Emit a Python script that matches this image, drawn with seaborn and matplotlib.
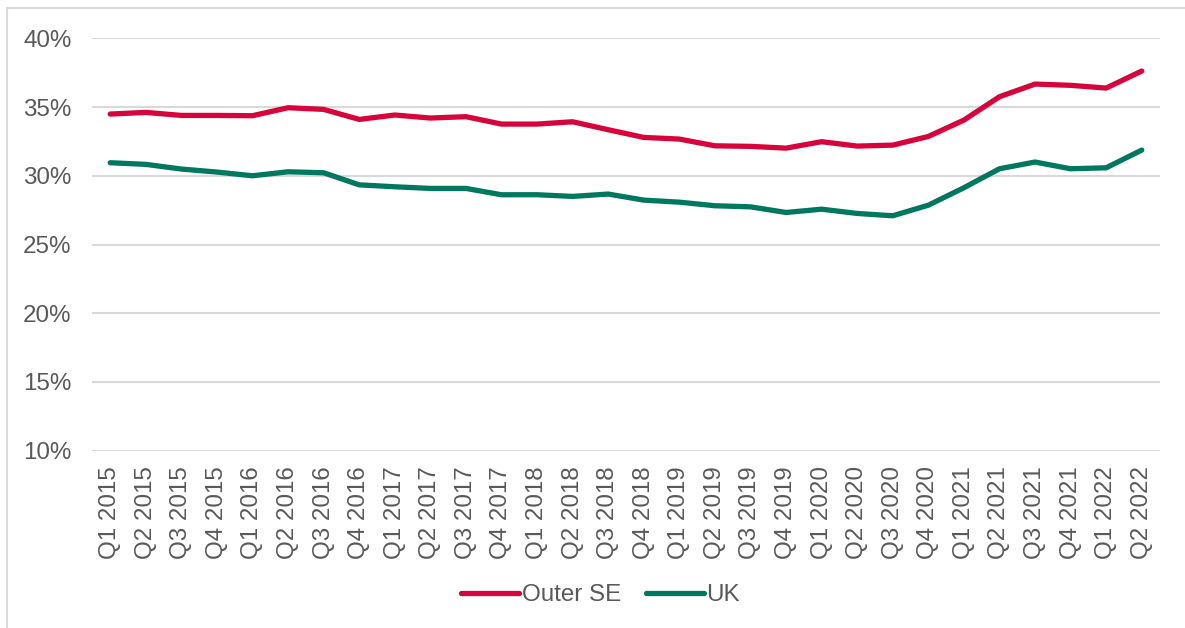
import pandas as pd
import seaborn as sns
import matplotlib.pyplot as plt
from matplotlib.patches import Rectangle

quarters = ['Q1 2015', 'Q2 2015', 'Q3 2015', 'Q4 2015',
            'Q1 2016', 'Q2 2016', 'Q3 2016', 'Q4 2016',
            'Q1 2017', 'Q2 2017', 'Q3 2017', 'Q4 2017',
            'Q1 2018', 'Q2 2018', 'Q3 2018', 'Q4 2018',
            'Q1 2019', 'Q2 2019', 'Q3 2019', 'Q4 2019',
            'Q1 2020', 'Q2 2020', 'Q3 2020', 'Q4 2020',
            'Q1 2021', 'Q2 2021', 'Q3 2021', 'Q4 2021',
            'Q1 2022', 'Q2 2022']

outer_se = [34.49, 34.61, 34.39, 34.39, 34.37, 34.95, 34.83, 34.10,
            34.42, 34.20, 34.30, 33.76, 33.76, 33.93, 33.35, 32.79,
            32.67, 32.18, 32.14, 32.01, 32.48, 32.16, 32.23, 32.86,
            34.05, 35.75, 36.67, 36.58, 36.38, 37.62]

uk = [30.95, 30.83, 30.49, 30.27, 30.00, 30.29, 30.22, 29.34,
      29.20, 29.08, 29.08, 28.62, 28.62, 28.50, 28.67, 28.23,
      28.08, 27.82, 27.74, 27.33, 27.57, 27.26, 27.09, 27.86,
      29.13, 30.51, 31.00, 30.51, 30.58, 31.87]

series_names = ['Outer SE', 'UK']
col_names = ['#D6043B', '#00785F']
grey = '#595959'
fs = 17.4

df = pd.DataFrame({
    'quarter': quarters * 2,
    'value': outer_se + uk,
    'series': [series_names[0]] * len(quarters) + [series_names[1]] * len(quarters),
})

sns.set_style('white')
plt.rcParams['font.family'] = ['Liberation Sans', 'DejaVu Sans']

fig = plt.figure(figsize=(11.85, 6.28), dpi=100)
ax = fig.add_axes([0.078, 0.2823, 0.9005, 0.6567])

# light frame around the chart
fig.patches.append(Rectangle((7 / 1185, -0.05), 1.2, 1 - 8 / 628 + 0.05,
                             transform=fig.transFigure, fill=False,
                             edgecolor='#D9D9D9', linewidth=1.5))

sns.lineplot(data=df, x='quarter', y='value', hue='series',
             palette=col_names, linewidth=3.8, sort=False, ax=ax,
             solid_capstyle='round')

ax.set_xlim(-0.5, len(quarters) - 0.5)
ax.set_ylim(10, 40)
ax.set_yticks(range(10, 41, 5))
ax.set_yticklabels(['%d%%' % v for v in range(10, 41, 5)])
ax.grid(axis='y', color='#D9D9D9', linewidth=1.5)
ax.set_axisbelow(True)
for s in ax.spines.values():
    s.set_visible(False)
ax.set_xlabel('')
ax.set_ylabel('')
ax.tick_params(axis='x', rotation=90, labelsize=fs, colors=grey, pad=11, length=0)
ax.tick_params(axis='y', labelsize=fs, colors=grey, pad=15, length=0)

ax.legend_.remove()
handles, labels = ax.get_legend_handles_labels()
leg = fig.legend(handles, labels, loc='center', bbox_to_anchor=(0.507, 0.0525),
                 ncol=2, frameon=False, fontsize=fs, handlelength=2.4,
                 handletextpad=0.12, columnspacing=1.0)
for t in leg.get_texts():
    t.set_color(grey)
for l in leg.get_lines():
    l.set_linewidth(3.8)
    l.set_solid_capstyle('round')

fig.savefig('out.png', dpi=100)
